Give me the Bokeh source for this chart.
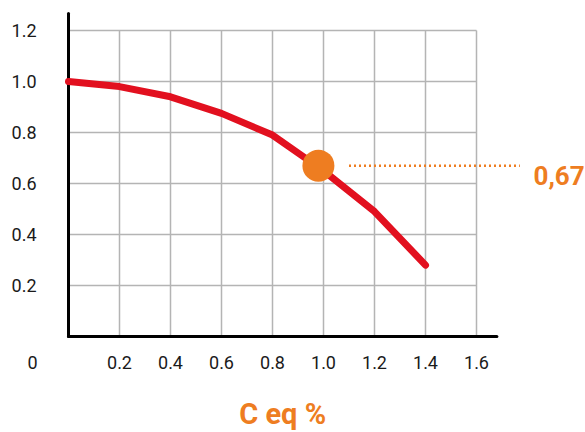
from bokeh.plotting import figure
from bokeh.models import Range1d
from bokeh.core.properties import value
from bokeh.embed import file_html
from bokeh.resources import INLINE

# data
c_eq = [0.0, 0.2, 0.4, 0.6, 0.8, 1.0, 1.2, 1.4]
factor = [1.0, 0.98, 0.94, 0.875, 0.79, 0.65, 0.49, 0.28]
x_ticks = [0.2, 0.4, 0.6, 0.8, 1.0, 1.2, 1.4, 1.6]
x_labels = ["0.2", "0.4", "0.6", "0.8", "1.0", "1.2", "1.4", "1.6"]
y_ticks = [0.2, 0.4, 0.6, 0.8, 1.0, 1.2]
y_labels = ["0.2", "0.4", "0.6", "0.8", "1.0", "1.2"]
origin_label = "0"
marker_x = [0.98]
marker_y = [0.67]
marker_label = "0,67"
axis_title = "C eq %"

RED = "#e2101f"
ORANGE = "#ee7d21"
TXT = "#1a1a1a"

# frame covers the whole canvas; 255 px per data unit
PX = 255.0
W, H = 585, 432
X0_PX, Y0_PX = 68, 336  # where data (0, 0) sits in canvas pixels

p = figure(width=W, height=H, output_backend="svg", toolbar_location=None,
           x_range=Range1d(-X0_PX / PX, (W - X0_PX) / PX),
           y_range=Range1d(-(H - Y0_PX) / PX, Y0_PX / PX),
           min_border=0, min_border_left=0, min_border_right=0,
           min_border_top=0, min_border_bottom=0)
p.title.visible = False
p.axis.visible = False
p.grid.visible = False
p.outline_line_color = None
p.background_fill_color = "white"
p.border_fill_color = "white"

x_axis_end = max(x_ticks) + 0.08
y_axis_end = max(y_ticks) + 0.067

# grid lines
p.segment(x0=x_ticks, y0=[0] * len(x_ticks), x1=x_ticks, y1=[max(y_ticks)] * len(x_ticks),
          line_color="#b4b4b4", line_width=1.5)
p.segment(x0=[0] * len(y_ticks), y0=y_ticks, x1=[max(x_ticks)] * len(y_ticks), y1=y_ticks,
          line_color="#b4b4b4", line_width=1.5)

# axis lines
p.segment(x0=[0, 0], y0=[0, 0], x1=[x_axis_end, 0], y1=[0, y_axis_end],
          line_color="black", line_width=3, line_cap="round")

# tick labels
p.text(x=[-32 / PX] * len(y_ticks), y=y_ticks, text=y_labels, text_font=value("Roboto"),
       text_font_size="18px", text_color=TXT, text_align="right", text_baseline="middle")
p.text(x=x_ticks, y=[-26 / PX] * len(x_ticks), text=x_labels, text_font=value("Roboto"),
       text_font_size="18px", text_color=TXT, text_align="center", text_baseline="middle")
p.text(x=[-36 / PX], y=[-26 / PX], text=[origin_label], text_font=value("Roboto"),
       text_font_size="18px", text_color=TXT, text_align="center", text_baseline="middle")

# curve
p.line(c_eq, factor, line_color=RED, line_width=7, line_join="round", line_cap="round")

# marker and callout
p.segment(x0=[1.1], y0=marker_y, x1=[1.77], y1=marker_y, line_color=ORANGE,
          line_width=2.5, line_dash="2 3")
p.scatter(marker_x, marker_y, size=32, fill_color=ORANGE, line_color=None)
p.text(x=[465 / PX], y=[marker_y[0] - 10 / PX], text=[marker_label], text_font=value("Roboto"),
       text_font_style="bold", text_font_size="26px", text_color=ORANGE,
       text_align="left", text_baseline="alphabetic")

# axis title
p.text(x=[0.84], y=[-77 / PX], text=[axis_title], text_font=value("Roboto"),
       text_font_style="bold", text_font_size="29px", text_color=ORANGE,
       text_align="center", text_baseline="alphabetic")

open("out.html", "w").write(file_html(p, INLINE))
